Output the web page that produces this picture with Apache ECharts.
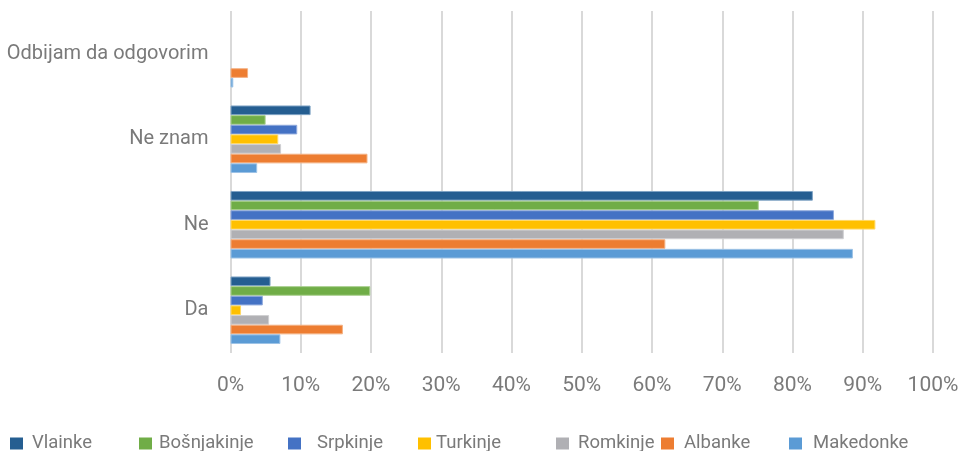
<!DOCTYPE html>
<html><head><meta charset="utf-8">
<script src="https://cdn.jsdelivr.net/npm/echarts@6/dist/echarts.min.js"></script>
<style>html,body{margin:0;padding:0;background:#fff}#c{width:963px;height:451px}</style>
</head><body><div id="c"></div>
<script>
var categories = ['Da', 'Ne', 'Ne znam', 'Odbijam da odgovorim'];
var seriesNames = ['Vlainke', 'Bošnjakinje', 'Srpkinje', 'Turkinje', 'Romkinje', 'Albanke', 'Makedonke'];
var Vlainke = [5.7, 82.9, 11.4, 0];
var Bosnjakinje = [19.9, 75.2, 5.0, 0];
var Srpkinje = [4.6, 85.9, 9.5, 0];
var Turkinje = [1.5, 91.8, 6.8, 0];
var Romkinje = [5.5, 87.3, 7.2, 0];
var Albanke = [16.0, 61.9, 19.5, 2.5];
var Makedonke = [7.1, 88.6, 3.8, 0.4];
var tickValues = [0, 10, 20, 30, 40, 50, 60, 70, 80, 90, 100];

var values = [Vlainke, Bosnjakinje, Srpkinje, Turkinje, Romkinje, Albanke, Makedonke];
var colors = ['#255E91', '#70AD47', '#4472C4', '#FFC000', '#B0B0B4', '#ED7D31', '#5B9BD5'];
var borders = ['#7fa3c4', '#a9cf8f', '#8fa9dc', '#ffd966', '#cfcfd2', '#f4b183', '#9dc3e6'];
var legendLeft = [10, 139, 288, 418, 556, 661, 789];
var legendTextGap = [9, 7, 16, 5, 9, 10, 11];

var font = 'Roboto, "Liberation Sans", sans-serif';
var textColor = '#7a7a7a';
var series = seriesNames.map(function (n, i) {
  return {
    name: n, type: 'bar',
    data: values[i].map(function (v) { return v === 0 ? null : v; }),
    barCategoryGap: '21%', barGap: '0%',
    itemStyle: { color: colors[i], borderColor: borders[i], borderWidth: 1 }
  };
});
var legends = seriesNames.map(function (n, i) {
  return {
    data: [n], left: legendLeft[i], top: 434, icon: 'rect', itemWidth: 13, itemHeight: 12,
    itemGap: 0, padding: 0, itemStyle: { borderWidth: 0 },
    textStyle: { color: textColor, fontSize: 18.5, fontFamily: font, padding: [0, 0, 0, legendTextGap[i] - 5] }
  };
});
var chart = echarts.init(document.getElementById('c'));
chart.setOption({
  backgroundColor: '#fff',
  animation: false,
  legend: legends,
  grid: { left: 230.5, right: 30, top: 11, bottom: 98, containLabel: false },
  xAxis: {
    type: 'value', min: tickValues[0], max: tickValues[tickValues.length - 1], interval: 10,
    axisLine: { show: false }, axisTick: { show: false },
    axisLabel: { formatter: '{value}%', color: textColor, fontSize: 21, fontFamily: font, margin: 22 },
    splitLine: { lineStyle: { color: '#d9d9d9', width: 2 } }
  },
  yAxis: {
    type: 'category', data: categories,
    axisLine: { show: false }, axisTick: { show: false },
    axisLabel: { color: textColor, fontSize: 20, fontFamily: font, margin: 22, padding: [4, 0, 0, 0] }
  },
  series: series
});
</script></body></html>
